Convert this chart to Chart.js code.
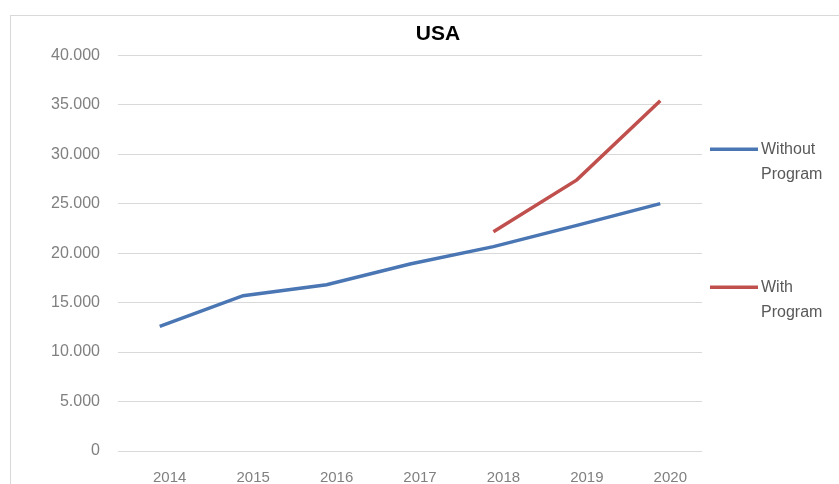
<!DOCTYPE html>
<html>
<head>
<meta charset="utf-8">
<script src="https://cdn.jsdelivr.net/npm/chart.js@4"></script>
<style>
  html, body { margin: 0; padding: 0; background: #ffffff; width: 839px; height: 484px; overflow: hidden; }
  #frame { position: absolute; left: 10px; top: 15px; width: 829px; height: 469px; border-left: 1px solid #d9d9d9; border-top: 1px solid #d9d9d9; }
  #wrap { position: absolute; left: 37px; top: 0px; width: 802px; height: 484px; }
</style>
</head>
<body>
<div id="frame"></div>
<div id="wrap"><canvas id="c"></canvas></div>
<script>
const chartTitle = 'USA';
const years = ['2014', '2015', '2016', '2017', '2018', '2019', '2020'];
const withoutProgram = [12600, 15700, 16800, 18900, 20650, 22800, 25000];
const withProgram = [null, null, null, null, 22150, 27400, 35400];
const seriesNames = [['Without', 'Program'], ['With', 'Program']];
const yTicks = [0, 5000, 10000, 15000, 20000, 25000, 30000, 35000, 40000];

function fmt(v) {
  return String(v).replace(/\B(?=(\d{3})+(?!\d))/g, '.');
}

const legendPlugin = {
  id: 'sideLegend',
  afterDraw(chart) {
    const ctx = chart.ctx;
    const area = chart.chartArea;
    const offsets = [94, 232];
    ctx.save();
    chart.data.datasets.forEach((ds, i) => {
      const y = area.top + offsets[i];
      ctx.strokeStyle = ds.borderColor;
      ctx.lineWidth = 3.5;
      ctx.lineCap = 'butt';
      ctx.beginPath();
      ctx.moveTo(area.right + 8, y);
      ctx.lineTo(area.right + 56, y);
      ctx.stroke();
      ctx.fillStyle = '#595959';
      ctx.font = '16px "Liberation Sans", Arial, sans-serif';
      ctx.textBaseline = 'middle';
      ctx.textAlign = 'left';
      seriesNames[i].forEach((t, k) => {
        ctx.fillText(t, area.right + 59, y + k * 25);
      });
    });
    ctx.restore();
  }
};

new Chart(document.getElementById('c'), {
  type: 'line',
  data: {
    labels: years,
    datasets: [
      {
        label: seriesNames[0].join(' '),
        data: withoutProgram,
        borderColor: '#4a76b4',
        backgroundColor: '#4a76b4',
        borderWidth: 3.5,
        pointRadius: 0,
        tension: 0,
        spanGaps: false
      },
      {
        label: seriesNames[1].join(' '),
        data: withProgram,
        borderColor: '#c0504d',
        backgroundColor: '#c0504d',
        borderWidth: 3.5,
        pointRadius: 0,
        tension: 0,
        spanGaps: false
      }
    ]
  },
  options: {
    responsive: true,
    maintainAspectRatio: false,
    animation: false,
    events: [],
    layout: { padding: 0 },
    plugins: {
      legend: { display: false },
      tooltip: { enabled: false },
      title: {
        display: true,
        text: chartTitle,
        color: '#000000',
        font: { family: '"Liberation Sans", Arial, sans-serif', size: 21, weight: 'bold', lineHeight: 1.2 },
        padding: { top: 22, bottom: 8 }
      }
    },
    scales: {
      x: {
        type: 'category',
        offset: true,
        grid: { display: false, drawTicks: false },
        border: { display: false },
        ticks: {
          color: '#808080',
          font: { family: '"Liberation Sans", Arial, sans-serif', size: 15 },
          padding: 18,
          labelOffset: 10,
          maxRotation: 0,
          autoSkip: false
        },
        afterFit(scale) { scale.height = 33; }
      },
      y: {
        min: 0,
        max: 40000,
        grid: { color: '#d9d9d9', lineWidth: 1, drawTicks: false },
        border: { display: false },
        afterBuildTicks(scale) { scale.ticks = yTicks.map(v => ({ value: v })); },
        ticks: {
          color: '#808080',
          font: { family: '"Liberation Sans", Arial, sans-serif', size: 16 },
          padding: 18,
          callback: (v) => fmt(v)
        },
        afterFit(scale) { scale.width = 81; }
      },
      yRight: {
        position: 'right',
        display: true,
        grid: { display: false, drawTicks: false },
        border: { display: false },
        ticks: { display: false },
        afterFit(scale) { scale.width = 137; }
      }
    }
  },
  plugins: [legendPlugin]
});
</script>
</body>
</html>
